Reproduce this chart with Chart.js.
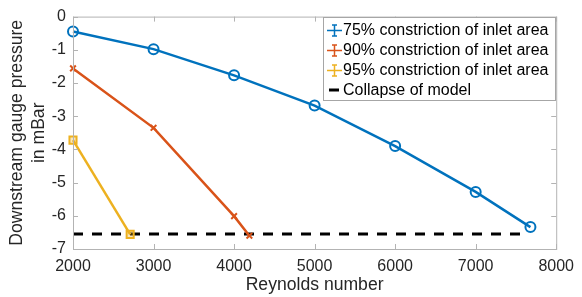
<!DOCTYPE html>
<html>
<head>
<meta charset="utf-8">
<script src="https://cdn.jsdelivr.net/npm/chart.js@4"></script>
<style>
  body { margin: 0; background: #fff; }
  #wrap { width: 582px; height: 297px; }
</style>
</head>
<body>
<div id="wrap"><canvas id="myChart" width="582" height="297"></canvas></div>
<script>
// Daten
const reynolds75 = [2000, 3000, 4000, 5000, 6000, 7000, 7680];
const pressure75 = [-0.45, -0.98, -1.77, -2.68, -3.9, -5.28, -6.34];

const reynolds90 = [2000, 3000, 4000, 4190];
const pressure90 = [-1.56, -3.35, -6.01, -6.6];

const reynolds95 = [2000, 2710];
const pressure95 = [-3.72, -6.56];

const collapseX = [2000, 7600];
const collapseY = [-6.55, -6.55];

const xTicks = [2000, 3000, 4000, 5000, 6000, 7000, 8000];
const yTicks = [0, -1, -2, -3, -4, -5, -6, -7];

const labels = [
    "75% constriction of inlet area",
    "90% constriction of inlet area",
    "95% constriction of inlet area",
    "Collapse of model"
];

const FONT = "'Liberation Sans', Arial, sans-serif";
const BLUE = "#0072BD", RED = "#D95319", YELLOW = "#EDB120";
const AXIS = "#b3b3b3", TEXT = "#262626";

function pts(xs, ys) {
    return xs.map((x, i) => ({ x: x, y: ys[i] }));
}

// Rahmen + Ticks nach innen (MATLAB-Stil)
const boxPlugin = {
    id: "box",
    afterDatasetsDraw(chart) {
        const { ctx, chartArea: a, scales } = chart;
        ctx.save();
        ctx.strokeStyle = AXIS;
        ctx.lineWidth = 1;
        ctx.strokeRect(a.left + 0.5, a.top + 0.5, a.right - a.left, a.bottom - a.top);
        ctx.beginPath();
        xTicks.forEach(v => {
            const px = Math.round(scales.x.getPixelForValue(v)) + 0.5;
            ctx.moveTo(px, a.bottom); ctx.lineTo(px, a.bottom - 5);
            ctx.moveTo(px, a.top); ctx.lineTo(px, a.top + 5);
        });
        yTicks.forEach(v => {
            const py = Math.round(scales.y.getPixelForValue(v)) + 0.5;
            ctx.moveTo(a.left, py); ctx.lineTo(a.left + 5, py);
            ctx.moveTo(a.right, py); ctx.lineTo(a.right - 5, py);
        });
        ctx.stroke();
        ctx.restore();
    },
    afterDraw(chart) {
        // Legende
        const ctx = chart.ctx;
        const colors = [BLUE, RED, YELLOW, "#000"];
        const bx = 323, by = 17, bw = 232, bh = 83;
        ctx.save();
        ctx.fillStyle = "#fff";
        ctx.fillRect(bx, by, bw, bh);
        ctx.strokeStyle = "#a6a6a6";
        ctx.lineWidth = 1;
        ctx.strokeRect(bx + 0.5, by + 0.5, bw, bh);
        ctx.font = "16px " + FONT;
        ctx.textBaseline = "middle";
        labels.forEach((t, i) => {
            const cy = by + 13 + i * 20;
            ctx.strokeStyle = colors[i];
            if (i < 3) {
                ctx.lineWidth = 1.5;
                ctx.beginPath();
                ctx.moveTo(327, cy + 0.5); ctx.lineTo(342, cy + 0.5);
                ctx.moveTo(334.5, cy - 5); ctx.lineTo(334.5, cy + 6);
                ctx.moveTo(332, cy - 5); ctx.lineTo(337, cy - 5);
                ctx.moveTo(332, cy + 6); ctx.lineTo(337, cy + 6);
                ctx.stroke();
            } else {
                ctx.lineWidth = 3;
                ctx.beginPath();
                ctx.moveTo(329, cy); ctx.lineTo(339, cy);
                ctx.stroke();
            }
            ctx.fillStyle = "#000";
            ctx.fillText(t, 343, cy + 1);
        });
        ctx.restore();
    }
};

const ctx = document.getElementById("myChart").getContext("2d");
new Chart(ctx, {
    type: "line",
    data: {
        datasets: [
            {
                label: labels[0],
                data: pts(reynolds75, pressure75),
                borderColor: BLUE,
                borderWidth: 2.5,
                pointStyle: "circle",
                pointRadius: 5,
                pointBorderWidth: 2,
                pointBackgroundColor: "transparent",
                pointBorderColor: BLUE
            },
            {
                label: labels[1],
                data: pts(reynolds90, pressure90),
                borderColor: RED,
                borderWidth: 2.5,
                pointStyle: "crossRot",
                pointRadius: 4,
                pointBorderWidth: 2,
                pointBorderColor: RED
            },
            {
                label: labels[2],
                data: pts(reynolds95, pressure95),
                borderColor: YELLOW,
                borderWidth: 2.5,
                pointStyle: "rect",
                pointRadius: 5,
                pointBorderWidth: 2,
                pointBackgroundColor: "rgba(237,177,32,0.3)",
                pointBorderColor: YELLOW
            },
            {
                label: labels[3],
                data: pts(collapseX, collapseY),
                borderColor: "#000",
                borderWidth: 3,
                borderDash: [10, 9],
                pointRadius: 0
            }
        ]
    },
    options: {
        responsive: false,
        animation: false,
        clip: false,
        layout: { padding: { left: 0, right: 22, top: 13, bottom: 0 } },
        plugins: {
            legend: { display: false },
            tooltip: { enabled: false }
        },
        scales: {
            x: {
                type: "linear",
                min: 2000,
                max: 8000,
                afterFit: s => { s.height = 48; },
                afterBuildTicks: s => { s.ticks = xTicks.map(v => ({ value: v })); },
                grid: { display: false, drawTicks: false, tickLength: 0 },
                border: { display: false },
                ticks: { color: TEXT, font: { family: FONT, size: 16 }, padding: 8, maxRotation: 0, callback: v => String(v) },
                title: { display: true, text: "Reynolds number", color: TEXT, font: { family: FONT, size: 17.6 }, padding: { top: 0, bottom: 1 } }
            },
            y: {
                min: -7,
                max: 0,
                afterFit: s => { s.width = 73; },
                afterBuildTicks: s => { s.ticks = yTicks.map(v => ({ value: v })); },
                grid: { display: false, drawTicks: false, tickLength: 0 },
                border: { display: false },
                ticks: { color: TEXT, font: { family: FONT, size: 16 }, padding: 7, callback: v => String(v) },
                title: { display: true, text: ["Downstream gauge pressure", "in mBar"], color: TEXT, font: { family: FONT, size: 17.6 }, padding: { top: 7, bottom: 0 } }
            }
        }
    },
    plugins: [boxPlugin]
});
</script>
</body>
</html>
